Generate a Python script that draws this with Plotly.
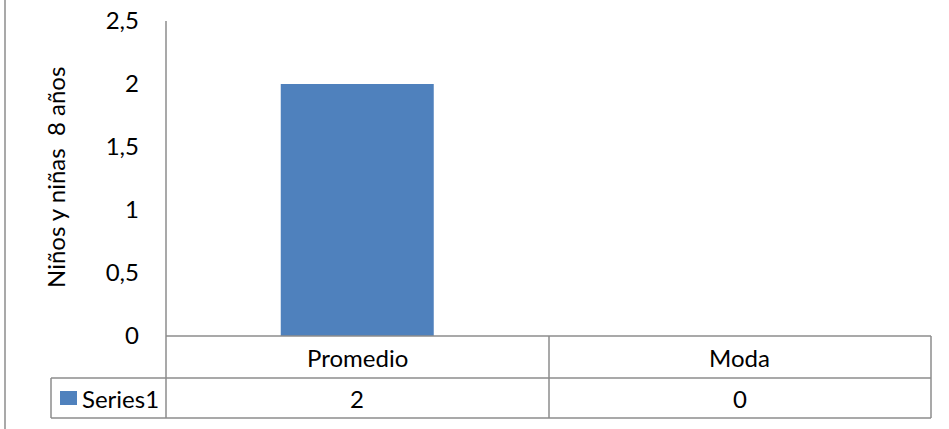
import plotly.graph_objects as go

categories = ["Promedio", "Moda"]
values = [2, 0]
series_name = "Series1"
y_ticks = [0, 0.5, 1, 1.5, 2, 2.5]
y_title = "Niños y niñas  8 años"

W, H = 949, 429
BAR = "#4F81BD"
LINE = "#8C8C8C"
FONT = "Lato"
FS = 24

def px(x):
    return x / W

def py(y):
    return 1 - y / H

x_left, x_right = 166, 931
y_top, y_zero = 21, 336
row1, row2 = 378, 418
legend_left = 51
col_div = 549

fig = go.Figure()
fig.add_trace(go.Bar(x=categories, y=values, name=series_name,
                     marker=dict(color=BAR, line=dict(width=0)), width=0.4))

fig.update_layout(
    width=W, height=H, margin=dict(l=0, r=0, t=0, b=0, pad=0, autoexpand=False),
    paper_bgcolor="white", plot_bgcolor="white",
    separators=", ",
    showlegend=False,
    font=dict(family=FONT, size=FS, color="black"),
    xaxis=dict(domain=[px(x_left), px(x_right)], range=[-0.5, 1.5],
               showticklabels=False, showgrid=False, zeroline=False, showline=False,
               fixedrange=True, automargin=False),
    yaxis=dict(domain=[py(y_zero), py(y_top)], range=[0, 2.5],
               tickvals=y_ticks, showgrid=False, zeroline=False, showline=False,
               ticks="", ticklabelstandoff=26, automargin=False,
               tickfont=dict(family=FONT, size=FS, color="black")),
)

shapes = []
def line(x0, y0, x1, y1):
    shapes.append(dict(type="line", xref="paper", yref="paper",
                       x0=px(x0), y0=py(y0), x1=px(x1), y1=py(y1),
                       line=dict(color=LINE, width=1.5)))

# outer left border
line(5, 0, 5, H)
# y axis line extends through table
line(x_left, y_top, x_left, row2)
# zero line / table top
line(x_left, y_zero, x_right, y_zero)
line(legend_left, row1, x_right, row1)
line(legend_left, row2, x_right, row2)
line(legend_left, row1, legend_left, row2)
line(col_div, y_zero, col_div, row2)
line(x_right, y_zero, x_right, row2)

# legend square
shapes.append(dict(type="rect", xref="paper", yref="paper",
                   x0=px(60), x1=px(77), y0=py(391), y1=py(405),
                   fillcolor=BAR, line=dict(width=0)))
fig.update_layout(shapes=shapes)

ann = []
for c, v in zip(categories, values):
    ann.append(dict(x=c, xref="x", y=py((y_zero + row1) / 2), yref="paper",
                    text=c, showarrow=False, xanchor="center", yanchor="middle",
                    font=dict(family=FONT, size=FS)))
    ann.append(dict(x=c, xref="x", y=py((row1 + row2) / 2), yref="paper",
                    text=str(v).replace(".", ","), showarrow=False,
                    xanchor="center", yanchor="middle",
                    font=dict(family=FONT, size=FS)))
ann.append(dict(x=px(80), xref="paper", y=py(398), yref="paper",
                text=series_name, showarrow=False, xanchor="left", yanchor="middle",
                font=dict(family=FONT, size=FS)))
ann.append(dict(x=px(56), xref="paper", y=py(178), yref="paper",
                text=y_title, textangle=-90, showarrow=False,
                xanchor="center", yanchor="middle",
                font=dict(family=FONT, size=FS)))
fig.update_layout(annotations=ann)

fig.write_html("out.html")
